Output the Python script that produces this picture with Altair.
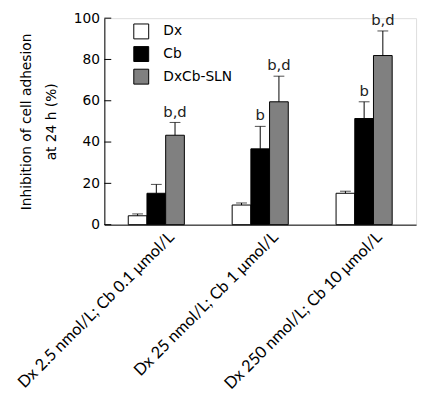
import altair as alt
import pandas as pd

groups = ["Dx 2.5 nmol/L; Cb 0.1 μmol/L", "Dx 25 nmol/L; Cb 1 μmol/L", "Dx 250 nmol/L; Cb 10 μmol/L"]
series = ["Dx", "Cb", "DxCb-SLN"]
means = {
    "Dx": [4.3, 9.5, 15.2],
    "Cb": [15.2, 36.7, 51.4],
    "DxCb-SLN": [43.3, 59.5, 81.9],
}
uppers = {
    "Dx": [5.2, 10.5, 16.2],
    "Cb": [19.5, 47.6, 59.5],
    "DxCb-SLN": [49.5, 71.9, 93.8],
}
marks = {
    "Dx": ["", "", ""],
    "Cb": ["", "b", "b"],
    "DxCb-SLN": ["b,d", "b,d", "b,d"],
}
yticks = [0, 20, 40, 60, 80, 100]
colors = ["white", "black", "#808080"]

rows = []
for s in series:
    for i, g in enumerate(groups):
        rows.append({"group": g, "series": s, "mean": means[s][i],
                     "upper": uppers[s][i], "mark": marks[s][i]})
df = pd.DataFrame(rows)
tdf = pd.DataFrame({"t": yticks})

FONT = "DejaVu Sans"

x = alt.X("group:N", sort=groups, title=None,
          scale=alt.Scale(paddingInner=0.46, paddingOuter=0.23),
          axis=alt.Axis(labelAngle=315, labelAlign="right", labelBaseline="top",
                        ticks=False, domainColor="black", labelColor="black",
                        labelFontSize=16.5, labelFont="Lato", labelPadding=4,
                        labelOffset=10, labelLimit=400))
xo = alt.XOffset("series:N", sort=series)
yscale = alt.Scale(domain=[0, 100], nice=False)

base = alt.Chart(df)

bars = base.mark_bar(stroke="black", strokeWidth=1).encode(
    x=x, xOffset=xo,
    y=alt.Y("mean:Q", scale=yscale,
            title=["Inhibition of cell adhesion", "at 24 h (%)"],
            axis=alt.Axis(values=yticks, ticks=False, grid=False, domainColor="black",
                          labelColor="black", labelFontSize=14, labelFont=FONT,
                          labelPadding=5, titleFont=FONT, titleFontSize=14,
                          titleFontWeight="normal", titleColor="black", titlePadding=15,
                          titleLineHeight=25)),
    fill=alt.Fill("series:N", sort=series,
                  scale=alt.Scale(domain=series, range=colors),
                  legend=alt.Legend(title=None, orient="none", legendX=29, legendY=5,
                                    symbolType="square", symbolSize=230,
                                    symbolStrokeColor="black", symbolStrokeWidth=1,
                                    labelFontSize=14, labelFont=FONT, labelColor="black",
                                    rowPadding=2, labelOffset=14)),
)

err = base.mark_rule(color="black", strokeWidth=1).encode(
    x=x, xOffset=xo, y="mean:Q", y2="upper:Q")

caps = base.mark_tick(orient="horizontal", color="black", thickness=1, size=11).encode(
    x=x, xOffset=xo, y=alt.Y("upper:Q"))

txt = base.mark_text(baseline="bottom", dy=-3, fontSize=15, font=FONT, color="#222").encode(
    x=x, xOffset=xo, y=alt.Y("upper:Q"), text="mark:N")

ticks = alt.Chart(tdf).mark_rule(color="black", strokeWidth=1).encode(
    x=alt.value(0), x2=alt.value(7), y=alt.Y("t:Q", scale=yscale))

chart = alt.layer(bars, err, caps, txt, ticks).properties(
    width=317, height=210,
    padding={"left": 7, "top": 0, "right": 5, "bottom": 5}
).configure_view(stroke=None).configure(background="white")

chart.save("out.html", embed_options={"renderer": "svg", "actions": False})
